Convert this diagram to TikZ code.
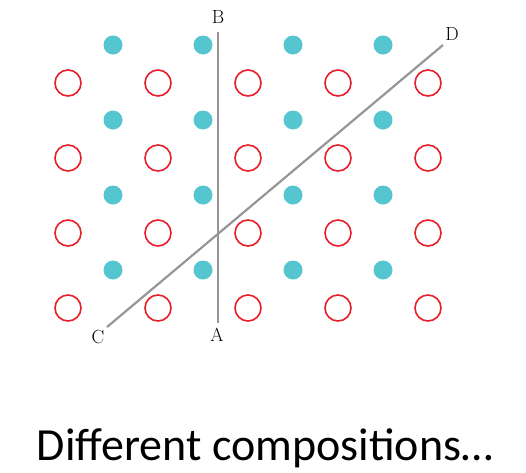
\documentclass[tikz,border=0pt]{standalone}
\usepackage{fontspec}
\newfontfamily\capfont{Carlito}
\definecolor{dotteal}{RGB}{85,198,208}
\definecolor{ringred}{RGB}{232,30,40}
\definecolor{linegray}{RGB}{150,150,150}
\begin{document}
\begin{tikzpicture}[x=1pt,y=-1pt,
  ring/.style={circle,draw=ringred,line width=1.6pt,minimum size=26pt,inner sep=0pt},
  dot/.style={circle,fill=dotteal,minimum size=19pt,inner sep=0pt},
  axisline/.style={draw=linegray,line width=2.2pt},
  lbl/.style={font=\fontsize{19}{22}\selectfont,inner sep=0pt}]
\useasboundingbox (0,0) rectangle (526,472);
\foreach \i/\x in {1/68,2/158,3/248,4/338,5/428}
  \foreach \j/\y in {1/83,2/158,3/233,4/308}
    \node[ring] (r\i\j) at (\x,\y) {};
\foreach \i/\x in {1/113,2/203,3/293,4/383}
  \foreach \j/\y in {1/45,2/120,3/195,4/270}
    \node[dot] (d\i\j) at (\x,\y) {};
\coordinate (pa) at (218,323);
\coordinate (pb) at (218,32);
\coordinate (pc) at (107,327);
\coordinate (pd) at (443,45);
\draw[axisline] (pa) -- (pb);
\draw[axisline] (pc) -- (pd);
\node[lbl] (la) at (217,335) {A};
\node[lbl] (lb) at (218,17.5) {B};
\node[lbl] (lc) at (98,337) {C};
\node[lbl] (ld) at (452,34) {D};
\node[font=\capfont\fontsize{46}{54}\selectfont,inner sep=0pt,anchor=base] (cap) at (265,460) {Different compositions…};
\end{tikzpicture}
\end{document}
